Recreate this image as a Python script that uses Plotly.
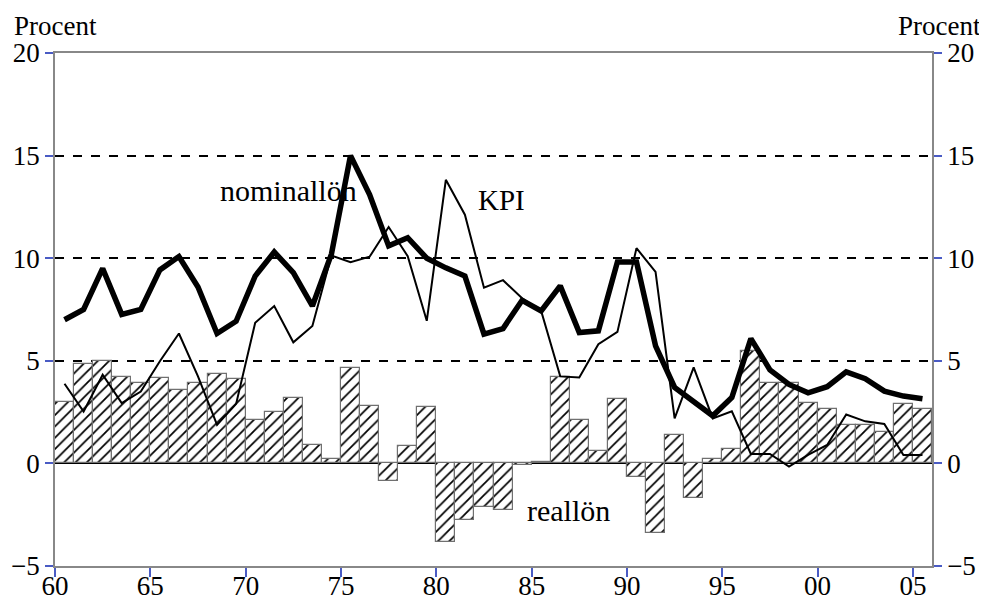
import numpy as np
import plotly.graph_objects as go

years = list(range(1960, 2006))

reallon = [3.0, 4.85, 5.0, 4.23, 3.92, 4.17, 3.57, 3.94, 4.38, 4.1,
           2.12, 2.49, 3.18, 0.91, 0.21, 4.63, 2.82, -0.85, 0.85, 2.74,
           -3.81, -2.74, -2.12, -2.28, -0.08, 0.07, 4.19, 2.12, 0.62, 3.13,
           -0.65, -3.37, 1.37, -1.68, 0.23, 0.68, 5.49, 3.94, 3.94, 2.96,
           2.65, 1.89, 1.89, 1.53, 2.88, 2.67]

nominallon = [7.0, 7.5, 9.5, 7.26, 7.5, 9.43, 10.08, 8.6, 6.33, 6.93,
              9.13, 10.3, 9.3, 7.67, 10.2, 15.0, 13.1, 10.6, 11.0, 10.0,
              9.53, 9.13, 6.3, 6.57, 7.95, 7.43, 8.65, 6.38, 6.46, 9.82,
              9.82, 5.73, 3.7, 2.97, 2.32, 3.21, 6.08, 4.56, 3.85, 3.44,
              3.74, 4.46, 4.13, 3.52, 3.28, 3.15]

kpi = [3.88, 2.53, 4.32, 2.94, 3.5, 4.98, 6.33, 4.24, 1.88, 2.9,
       6.85, 7.67, 5.9, 6.7, 10.13, 9.8, 10.07, 11.52, 10.1, 6.95,
       13.82, 12.12, 8.56, 8.93, 8.05, 7.43, 4.24, 4.19, 5.81, 6.41,
       10.49, 9.33, 2.19, 4.68, 2.19, 2.54, 0.46, 0.46, -0.16, 0.41,
       0.9, 2.38, 2.05, 1.92, 0.41, 0.41]

tick_years = [1960, 1965, 1970, 1975, 1980, 1985, 1990, 1995, 2000, 2005]
tick_labels = ["60", "65", "70", "75", "80", "85", "90", "95", "00", "05"]
y_ticks = [-5, 0, 5, 10, 15, 20]

xc = np.array(years) + 0.5
FONT = "Liberation Serif, Times New Roman, serif"
TICKC = "#4a5bc4"
TICKFONT = dict(family=FONT, size=27, color="black")

fig = go.Figure()
fig.add_trace(go.Bar(
    x=xc, y=reallon, width=1.0, name="reallön",
    marker=dict(color="white",
                line=dict(color="#707070", width=1.2),
                pattern=dict(shape="/", fgcolor="black", bgcolor="white",
                             fgopacity=1, size=8, solidity=0.22)),
    showlegend=False))
fig.add_trace(go.Scatter(
    x=xc, y=kpi, mode="lines", name="KPI",
    line=dict(color="black", width=2), showlegend=False))
fig.add_trace(go.Scatter(
    x=xc, y=nominallon, mode="lines", name="nominallön",
    line=dict(color="black", width=5.5), showlegend=False))
fig.add_trace(go.Scatter(
    x=[None], y=[None], yaxis="y2", showlegend=False, hoverinfo="skip"))

fig.update_layout(
    width=979, height=590,
    margin=dict(l=47, r=55, t=45, b=32),
    paper_bgcolor="white", plot_bgcolor="white",
    font=dict(family=FONT, size=24, color="black"),
    bargap=0,
    xaxis=dict(range=[1960, 2006], tickvals=tick_years, ticktext=tick_labels,
               automargin=False, showgrid=False, zeroline=False,
               showline=True, linecolor="#888888", linewidth=1.5, mirror=True,
               ticks="outside", ticklen=9, tickcolor=TICKC, tickwidth=1.5,
               ticklabelstandoff=-14,
               tickfont=TICKFONT),
    yaxis=dict(range=[-5, 20], tickvals=y_ticks, automargin=False,
               showgrid=True, gridcolor="black", griddash="dash", gridwidth=1.5,
               zeroline=True, zerolinecolor="black", zerolinewidth=1.5,
               showline=True, linecolor="#888888", linewidth=1.5,
               ticks="outside", ticklen=8, tickcolor=TICKC, tickwidth=1.5,
               tickfont=TICKFONT),
    yaxis2=dict(range=[-5, 20], tickvals=y_ticks, overlaying="y", side="right",
                automargin=False, showgrid=False, zeroline=False,
                showline=True, linecolor="#888888", linewidth=1.5,
                ticks="outside", ticklen=8, tickcolor=TICKC, tickwidth=1.5,
                tickfont=TICKFONT),
    annotations=[
        dict(text="nominallön", x=1968.55, y=13.3, xref="x", yref="y",
             xanchor="left", yanchor="middle", showarrow=False,
             font=dict(family=FONT, size=30)),
        dict(text="KPI", x=1983.4, y=12.85, xref="x", yref="y",
             xanchor="center", yanchor="middle", showarrow=False,
             font=dict(family=FONT, size=29)),
        dict(text="reallön", x=1986.95, y=-2.3, xref="x", yref="y",
             xanchor="center", yanchor="middle", showarrow=False,
             font=dict(family=FONT, size=30)),
        dict(text="Procent", x=-0.049, y=1.0, xref="paper", yref="paper",
             xanchor="left", yanchor="bottom", yshift=10, showarrow=False,
             font=dict(family=FONT, size=27)),
        dict(text="Procent", x=1.058, y=1.0, xref="paper", yref="paper",
             xanchor="right", yanchor="bottom", yshift=10, showarrow=False,
             font=dict(family=FONT, size=27)),
    ],
)

fig.write_html("out.html")
